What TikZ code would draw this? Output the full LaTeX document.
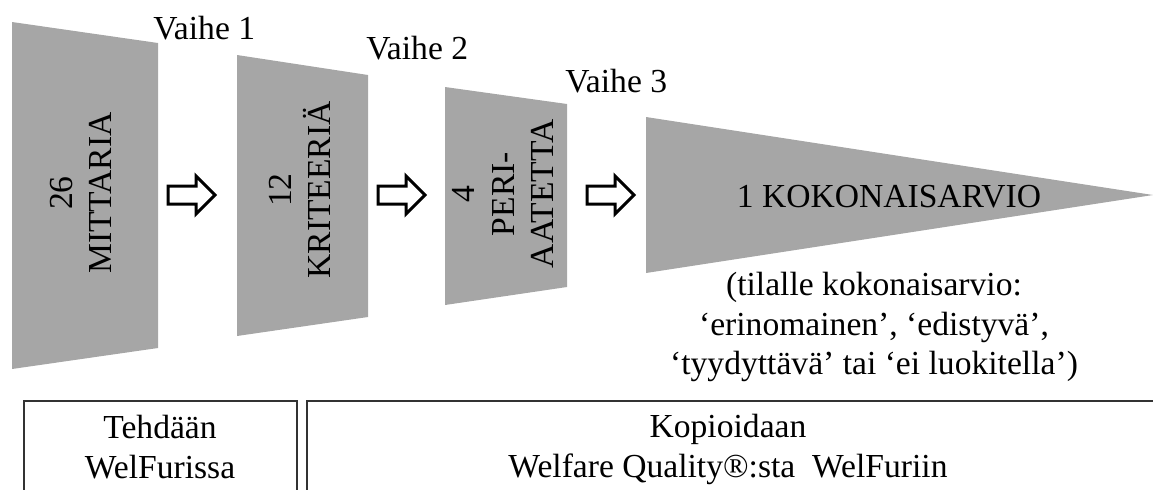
\documentclass[tikz,border=0pt]{standalone}
\usepackage{fontspec}
\setmainfont{Liberation Serif}

\definecolor{funnelgray}{RGB}{166,166,166}

\tikzset{
	funnel/.style={fill=funnelgray},
	stagearrow/.style={draw=black, fill=white, line width=1.5pt},
	labelbox/.style={draw=black!80, line width=1pt},
	txt/.style={inner sep=0pt, align=center}
}

\begin{document}
\begin{tikzpicture}[x=0.5pt, y=-0.5pt, font=\fontsize{16.8}{19.8}\selectfont]
	\useasboundingbox (0,0) rectangle (1153,489);
	\clip (0,0) rectangle (1153,489);

	% 26 mittaria
	\fill [funnel] (12,22) -- (158,43) -- (158,348) -- (12,369) -- cycle;
	\node [txt, rotate=90] (mittaria) at (81,193) {26\\MITTARIA};
	\node [txt, anchor=base west] (vaihe1) at (153,39) {Vaihe 1};

	% 12 kriteeria
	\fill [funnel] (237,55) -- (368,75) -- (368,317) -- (237,336) -- cycle;
	\node [txt, rotate=90] (kriteeria) at (300,190) {12\\KRITEERIÄ};
	\node [txt, anchor=base west] (vaihe2) at (366,59) {Vaihe 2};

	% 4 periaatetta
	\fill [funnel] (445,87) -- (567,104) -- (567,287) -- (445,305) -- cycle;
	\node [txt, rotate=90] (periaatetta) at (503,194) {4\\PERI-\\AATETTA};
	\node [txt, anchor=base west] (vaihe3) at (565,92) {Vaihe 3};

	% 1 kokonaisarvio
	\fill [funnel] (646,117) -- (1153,195) -- (646,273) -- cycle;
	\node [txt, anchor=base] (kokonais) at (889,207) {1 KOKONAISARVIO};
	\node [txt, anchor=north] (luokat) at (874,272)
		{(tilalle kokonaisarvio:\\‘erinomainen’, ‘edistyvä’,\\‘tyydyttävä’ tai ‘ei luokitella’)};

	% arrows between stages
	\draw [stagearrow] (168,186) -- (196,186) -- (196,176) -- (215,195)
		-- (196,214) -- (196,204) -- (168,204) -- cycle;
	\draw [stagearrow] (378,186) -- (406,186) -- (406,176) -- (425,195)
		-- (406,214) -- (406,204) -- (378,204) -- cycle;
	\draw [stagearrow] (587,186) -- (615,186) -- (615,176) -- (634,195)
		-- (615,214) -- (615,204) -- (587,204) -- cycle;

	% bottom boxes
	\draw [labelbox] (24,401) rectangle (297,530);
	\node [txt, anchor=north] (tehdaan) at (160,415) {Tehdään\\WelFurissa};
	\draw [labelbox] (307,401) rectangle (1190,530);
	\node [txt, anchor=north] (kopioidaan) at (728,414) {Kopioidaan\\Welfare Quality®:sta\ \ WelFuriin};

\end{tikzpicture}
\end{document}
